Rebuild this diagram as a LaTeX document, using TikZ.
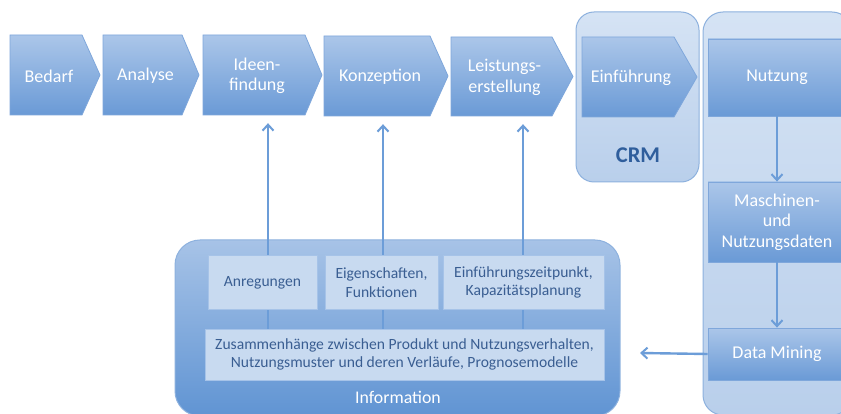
\documentclass[tikz,border=0pt]{standalone}
\usepackage{fontspec}
\setmainfont{Carlito}
\usetikzlibrary{arrows.meta,calc}
\definecolor{chevtop}{HTML}{ABC6E9}
\definecolor{chevbot}{HTML}{6A9AD6}
\definecolor{chevline}{HTML}{7FA7DB}
\definecolor{contop}{HTML}{D5E3F4}
\definecolor{conbot}{HTML}{B9CFEB}
\definecolor{conline}{HTML}{8DB1DE}
\definecolor{infotop}{HTML}{A7C3E7}
\definecolor{infobot}{HTML}{6094D3}
\definecolor{innerfill}{HTML}{C8DAF0}
\definecolor{innerline}{HTML}{A6C3E8}
\definecolor{innertext}{HTML}{3A5E92}
\definecolor{crmtext}{HTML}{2F5E9C}
\definecolor{arrowc}{HTML}{6C9DD8}
\pgfdeclarelayer{bglayer}
\pgfdeclarelayer{midlayer}
\pgfsetlayers{bglayer,midlayer,main}
\newcommand\mychev[7]{% name, xl, xr, tip, yt, yb, text
  \path[chevfill] (#2,#5) -- (#3,#5) -- (#4,{(#5+#6)/2}) -- (#3,#6) -- (#2,#6) -- cycle;
  \node[chevtxt, minimum width={#3-#2}, minimum height={#6-#5}] (#1) at ({(#2+#3)/2+3},{(#5+#6)/2+1}) {#7};
}
\begin{document}
\begin{tikzpicture}[x=1pt,y=-1pt,
  chevtxt/.style={text=white, font=\fontsize{18}{20.5}\selectfont, align=center, inner sep=0pt},
  chevfill/.style={top color=chevtop, bottom color=chevbot, draw=chevline, line width=0.8pt},
  boxfill/.style={top color=chevtop, bottom color=chevbot, draw=chevline, line width=0.8pt,
    text=white, font=\fontsize{18}{20.5}\selectfont, align=center, inner sep=0pt},
  confill/.style={top color=contop, bottom color=conbot, draw=conline, line width=1pt},
  infofill/.style={top color=infotop, bottom color=infobot, draw=conline, line width=1pt},
  inner/.style={fill=innerfill, draw=innerline, line width=1pt, text=innertext,
    font=\fontsize{15.6}{18.5}\selectfont, align=center, inner sep=0pt},
  arr/.style={draw=arrowc, line width=2.4pt, -{Straight Barb[length=6pt,width=11pt,line width=2pt]}}]
\useasboundingbox (0,0) rectangle (841,414);
\begin{pgfonlayer}{bglayer}
\fill[white] (0,0) rectangle (841,414);
\clip (0,0) rectangle (841,414);
% containers
\path[confill, rounded corners=18] (576,12) rectangle (699,182);
\path[confill, rounded corners=20] (703,12) rectangle (852,415);
\path[infofill, rounded corners=25] (175,240) rectangle (620,416);
\end{pgfonlayer}

% process chevrons
\mychev{bedarf}{10}{82}{100}{35}{115}{Bedarf}
\mychev{analyse}{103}{182}{199}{35}{115}{Analyse}
\mychev{ideen}{203}{305}{322}{35}{115}{Ideen-\\findung}
\mychev{konz}{324}{430}{448}{36}{116}{Konzeption}
\mychev{leist}{451}{552}{573}{37}{116}{Leistungs-\\erstellung}
\mychev{einf}{582}{674}{697}{37}{117}{Einführung}
\node[text=crmtext, font=\fontsize{22.5}{25}\selectfont\bfseries] (crm) at (638,155) {CRM};

% Nutzung column
\node[boxfill, minimum width=138, minimum height=77] (nutz) at (777,77.5) {Nutzung};
\node[boxfill, minimum width=138, minimum height=80] (masch) at (777,222) {Maschinen-\\und\\Nutzungsdaten};
\node[boxfill, minimum width=138, minimum height=52] (dm) at (777,354) {Data Mining};
\draw[arr] (nutz) -- (masch);
\draw[arr] (masch) -- (dm);
\coordinate (dmend) at (640,353);

% Information inner boxes
\node[inner, minimum width=399, minimum height=51] (zus) at (404.5,354.5) {Zusammenhänge zwischen Produkt und Nutzungsverhalten,\\Nutzungsmuster und deren Verläufe, Prognosemodelle};
\node[inner, minimum width=109, minimum height=53] (anr) at (262.5,282.5) {Anregungen};
\node[inner, minimum width=113, minimum height=53] (eig) at (381.5,282.5) {Eigenschaften,\\Funktionen};
\node[inner, minimum width=161, minimum height=53] (ezp) at (523.5,282.5) {Einführungszeitpunkt,\\Kapazitätsplanung};
\node[text=white, font=\fontsize{17.8}{20}\selectfont] (info) at (398,397) {Information};

\begin{pgfonlayer}{midlayer}
\draw[arr] ($(zus.north -| anr.north)+(5.5,0)$) -- ($(ideen.south -| anr.north)+(5.5,7)$);
\draw[arr] ($(zus.north -| eig.north)+(1.5,0)$) -- ($(konz.south -| eig.north)+(1.5,7)$);
\draw[arr] ($(zus.north -| ezp.north)+(-0.5,0)$) -- ($(leist.south -| ezp.north)+(-0.5,7)$);
\end{pgfonlayer}
\draw[arr] (dm.west) -- (dmend);
\end{tikzpicture}
\end{document}
